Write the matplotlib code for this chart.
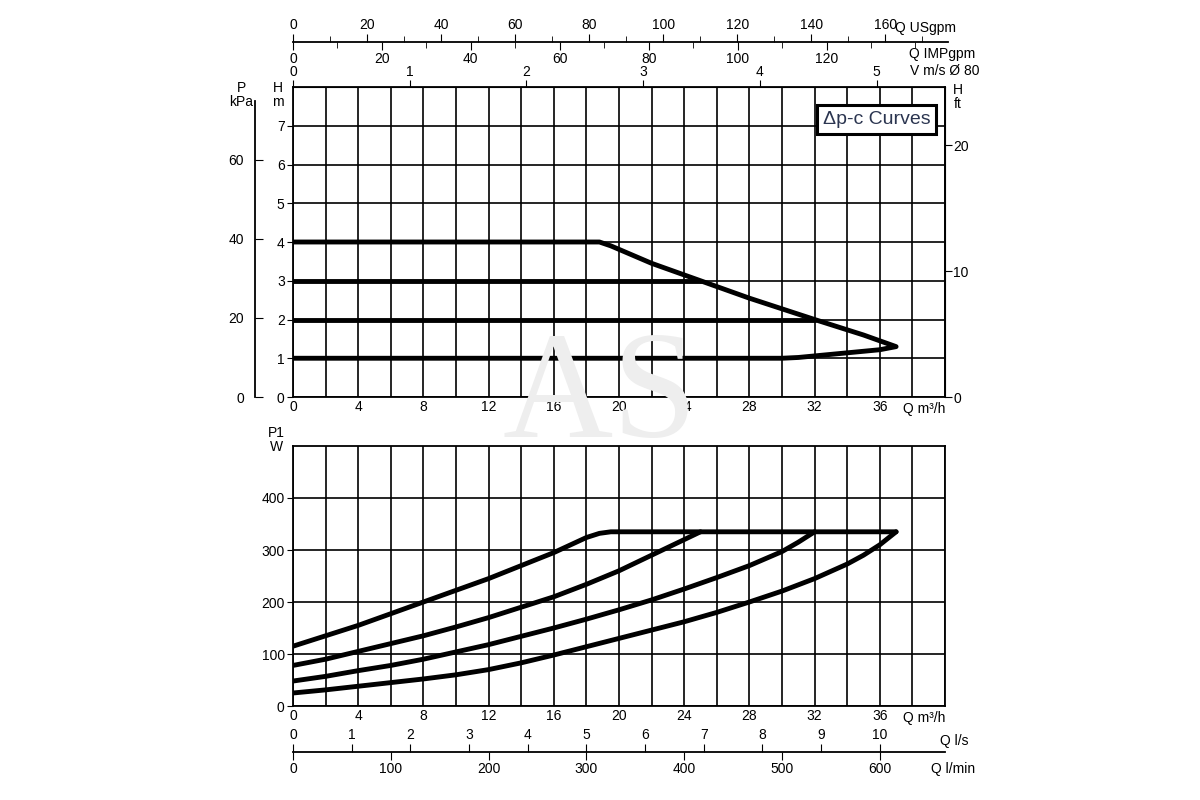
import numpy as np
import matplotlib
matplotlib.use("Agg")
import matplotlib.pyplot as plt
from matplotlib.ticker import MultipleLocator, FixedLocator

# head curves (Q m3/h, H m)
h4_q = [0, 18.8, 19.5, 22, 25, 28, 32, 35, 37, 36, 33, 31, 30, 0]
h4_h = [4, 4, 3.9, 3.45, 3.0, 2.55, 2.0, 1.6, 1.3, 1.22, 1.1, 1.02, 1.0, 1.0]
h3_q = [0, 25]
h3_h = [3, 3]
h2_q = [0, 32]
h2_h = [2, 2]

# power curves (Q m3/h, P1 W)
p4_q = [0, 4, 8, 12, 16, 18.0, 18.8, 19.5, 37]
p4_w = [115, 155, 200, 245, 295, 324, 332, 335, 335]
p3_q = [0, 2, 4, 6, 8, 10, 12, 14, 16, 18, 20, 22, 24, 25]
p3_w = [78, 90, 105, 120, 135, 152, 170, 190, 210, 234, 260, 290, 320, 335]
p2_q = [0, 2, 4, 6, 8, 10, 12, 14, 16, 18, 20, 22, 24, 26, 28, 30, 31, 32]
p2_w = [48, 57, 68, 78, 90, 104, 118, 134, 150, 167, 185, 204, 225, 247, 270, 297, 315, 335]
p1_q = [0, 2, 4, 6, 8, 10, 12, 14, 16, 18, 20, 22, 24, 26, 28, 30, 32, 34, 35, 36, 37]
p1_w = [25, 31, 38, 45, 52, 60, 70, 83, 98, 114, 130, 146, 162, 180, 200, 221, 245, 273, 290, 310, 335]

# scale labels
q_ticks = list(range(0, 37, 4))

plt.rcParams['font.family'] = ['Liberation Sans', 'DejaVu Sans']
plt.rcParams['font.size'] = 10

fig = plt.figure(figsize=(12, 8), dpi=100)
L, W = 293 / 1200, 652 / 1200

# faint watermark
fig.text(600 / 1200, 1 - 400 / 800, 'AS', ha='center', va='center', fontsize=110,
         family='Liberation Serif', color='#eeeeee', zorder=0)

# ---- top chart
ax1 = fig.add_axes([L, 1 - 397 / 800, W, 310 / 800])
ax1.patch.set_alpha(0)
ax1.set_xlim(0, 40)
ax1.set_ylim(0, 8)
ax1.set_xticks(q_ticks)
ax1.xaxis.set_minor_locator(MultipleLocator(2))
ax1.yaxis.set_major_locator(FixedLocator(range(0, 8)))
ax1.grid(True, which='both', color='black', lw=1.2)
ax1.set_axisbelow(True)
ax1.tick_params(axis='x', which='both', length=0, pad=2)
ax1.tick_params(axis='y', length=4, direction='out', pad=2)
for s in ax1.spines.values():
    s.set_linewidth(1.3)
for q, h in [(h4_q, h4_h), (h3_q, h3_h), (h2_q, h2_h)]:
    ax1.plot(q, h, color='black', lw=3.5, solid_joinstyle='round', solid_capstyle='round')
ax1.text(1.0, -0.015, 'Q m³/h', transform=ax1.transAxes, ha='right', va='top', fontsize=10,
         bbox=dict(facecolor='white', edgecolor='none', pad=1))

# velocity axis on top spine
vfac = 5 / 35.8
axv = ax1.secondary_xaxis('top', functions=(lambda q: q * vfac, lambda v: v / vfac))
axv.set_xticks(range(0, 6))
axv.tick_params(length=5, direction='out', pad=1)

# H ft on right
ftm = 0.325
axft = ax1.secondary_yaxis('right', functions=(lambda m: m / ftm, lambda f: f * ftm))
axft.set_yticks([0, 10, 20])
axft.tick_params(length=5, direction='out', pad=1)

# kPa on a separate left spine
axk = ax1.twinx()
axk.set_ylim(0, 8 * 9.81)
for k in ['right', 'top', 'bottom']:
    axk.spines[k].set_visible(False)
axk.spines['left'].set_visible(True)
axk.spines['left'].set_position(('axes', -0.058))
axk.spines['left'].set_bounds(0, 75)
axk.spines['left'].set_linewidth(1.3)
axk.yaxis.set_ticks_position('left')
axk.set_yticks([0, 20, 40, 60])
axk.tick_params(axis='y', direction='in', length=6, pad=8)

fig.text(241 / 1200, 1 - 95 / 800, 'P\nkPa', ha='center', va='center', fontsize=10, linespacing=1.0)
fig.text(278 / 1200, 1 - 95 / 800, 'H\nm', ha='center', va='center', fontsize=10, linespacing=1.0)
fig.text(958 / 1200, 1 - 97 / 800, 'H\nft', ha='center', va='center', fontsize=10, linespacing=1.0)
ax1.text(0.895, 0.895, 'Δp-c Curves', transform=ax1.transAxes, ha='center', va='center',
         fontsize=14, color='#2b3550',
         bbox=dict(facecolor='white', edgecolor='black', lw=2.2, pad=4))

# gpm scale line: US above, IMP below
gq = 40 * 655 / 652
axg = fig.add_axes([L, 1 - 42 / 800, 655 / 1200, 0.0001])
axg.set_xlim(0, gq * 4.403)
axg.set_yticks([])
for k in ['left', 'right', 'bottom']:
    axg.spines[k].set_visible(False)
axg.spines['top'].set_linewidth(1.3)
axg.xaxis.set_ticks_position('top')
axg.set_xticks(range(0, 161, 20))
axg.xaxis.set_minor_locator(MultipleLocator(10))
axg.tick_params(axis='x', which='major', length=6, direction='out', pad=1)
axg.tick_params(axis='x', which='minor', length=4, direction='out')
fig.text(895 / 1200, 1 - 28 / 800, 'Q USgpm', ha='left', va='center', fontsize=10)

axi = fig.add_axes([L, 1 - 42 / 800, 655 / 1200, 0.0001])
axi.patch.set_alpha(0)
axi.set_xlim(0, gq * 3.666)
axi.set_yticks([])
for k in ['left', 'right', 'top', 'bottom']:
    axi.spines[k].set_visible(False)
axi.set_xticks(range(0, 121, 20))
axi.xaxis.set_minor_locator(MultipleLocator(10))
axi.tick_params(axis='x', which='major', length=6, direction='out', pad=1)
axi.tick_params(axis='x', which='minor', length=4, direction='out')
fig.text(975 / 1200, 1 - 54 / 800, 'Q IMPgpm', ha='right', va='center', fontsize=10)
fig.text(980 / 1200, 1 - 71 / 800, 'V m/s Ø 80', ha='right', va='center', fontsize=10)

# ---- bottom chart
ax2 = fig.add_axes([L, 1 - 706 / 800, W, 260 / 800])
ax2.patch.set_alpha(0)
ax2.set_xlim(0, 40)
ax2.set_ylim(0, 500)
ax2.set_xticks(q_ticks)
ax2.xaxis.set_minor_locator(MultipleLocator(2))
ax2.yaxis.set_major_locator(FixedLocator(range(0, 500, 100)))
ax2.grid(True, which='both', color='black', lw=1.2)
ax2.set_axisbelow(True)
ax2.tick_params(axis='x', which='both', length=0, pad=2)
ax2.tick_params(axis='y', length=4, direction='out', pad=2)
for s in ax2.spines.values():
    s.set_linewidth(1.3)
for q, w in [(p4_q, p4_w), (p3_q, p3_w), (p2_q, p2_w), (p1_q, p1_w)]:
    ax2.plot(q, w, color='black', lw=3.5, solid_joinstyle='round', solid_capstyle='round')
ax2.text(1.0, -0.02, 'Q m³/h', transform=ax2.transAxes, ha='right', va='top', fontsize=10,
         bbox=dict(facecolor='white', edgecolor='none', pad=1))
fig.text(276 / 1200, 1 - 440 / 800, 'P1\nW', ha='center', va='center', fontsize=10, linespacing=1.0)

# l/s above and l/min below the same line
axl = fig.add_axes([L, 1 - 752 / 800, W, 0.0001])
axl.set_xlim(0, 40 / 3.6)
axl.set_yticks([])
for k in ['left', 'right', 'bottom']:
    axl.spines[k].set_visible(False)
axl.spines['top'].set_linewidth(1.3)
axl.xaxis.set_ticks_position('top')
axl.set_xticks(range(0, 11))
axl.tick_params(axis='x', length=6, direction='out', pad=1)
fig.text(968 / 1200, 1 - 741 / 800, 'Q l/s', ha='right', va='center', fontsize=10)

axm = fig.add_axes([L, 1 - 752 / 800, W, 0.0001])
axm.patch.set_alpha(0)
axm.set_xlim(0, 40 / 3.6 * 60)
axm.set_yticks([])
for k in ['left', 'right', 'top', 'bottom']:
    axm.spines[k].set_visible(False)
axm.set_xticks(range(0, 601, 100))
axm.tick_params(axis='x', length=6, direction='out', pad=1)
fig.text(975 / 1200, 1 - 769 / 800, 'Q l/min', ha='right', va='center', fontsize=10)

fig.savefig('out.png', dpi=100, facecolor='white')
